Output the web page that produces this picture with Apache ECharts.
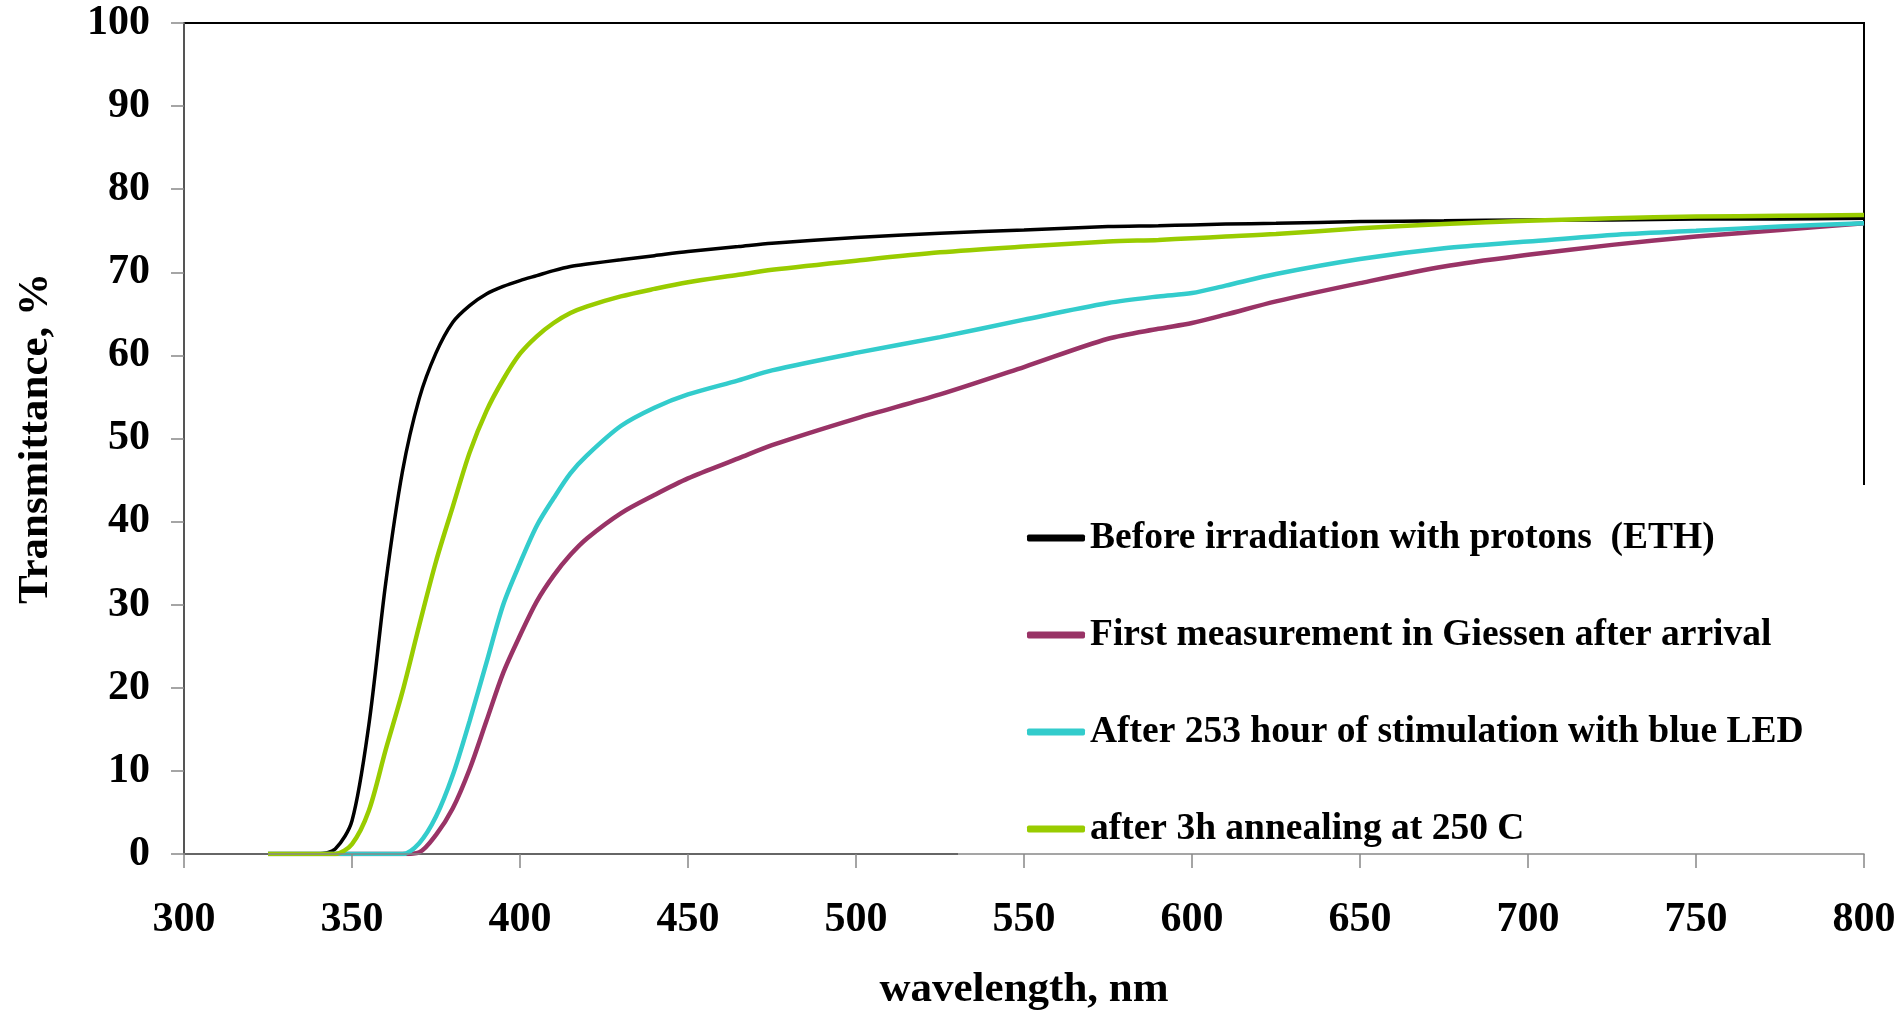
<!DOCTYPE html>
<html>
<head>
<meta charset="utf-8">
<title>Transmittance</title>
<script src="https://cdn.jsdelivr.net/npm/echarts@6.0.0/dist/echarts.min.js"></script>
<style>
    html, body { margin: 0; padding: 0; background: #fff; }
    #chart { width: 1902px; height: 1011px; }
</style>
</head>
<body>
<div id="chart"></div>
<script>
// wavelength (nm), shared by all curves
const wavelengths = [325, 340, 345, 350, 355, 360, 365, 370, 375, 380, 385, 390, 395, 400, 405, 410, 415,
    420, 430, 440, 450, 465, 475, 500, 525, 550, 575, 590, 600, 610, 625, 650, 675, 700, 725, 750, 775, 800];

// transmittance, %
const beforeEth = [0, 0, 0.6, 4.0, 15.5, 32.5, 46, 54.8, 60.3, 64.0, 66.0, 67.4, 68.3, 69.0, 69.6, 70.2, 70.7,
    71.0, 71.5, 72.0, 72.5, 73.1, 73.5, 74.2, 74.7, 75.1, 75.5, 75.6, 75.7, 75.8, 75.9, 76.1, 76.2, 76.3, 76.3, 76.4, 76.4, 76.5];
const giessenArrival = [0, 0, 0, 0, 0, 0, 0, 0.2, 2.3, 5.5, 10.2, 16, 21.8, 26.3, 30.4, 33.5, 36.0,
    38.0, 41.0, 43.2, 45.2, 47.6, 49.2, 52.4, 55.3, 58.6, 62.0, 63.2, 63.9, 64.9, 66.5, 68.7, 70.7, 72.1, 73.3, 74.3, 75.1, 75.9];
const blueLed253h = [0, 0, 0, 0, 0, 0, 0, 1.3, 4.5, 9.5, 16, 23, 30, 35, 39.5, 42.8, 45.8,
    48.0, 51.5, 53.7, 55.3, 57.0, 58.2, 60.3, 62.2, 64.3, 66.3, 67.1, 67.5, 68.4, 69.8, 71.6, 72.9, 73.7, 74.5, 75.0, 75.5, 75.9];
const annealed250 = [0, 0, 0, 1.2, 5.2, 12.5, 19.5, 27.5, 35.2, 41.8, 48.3, 53.3, 57.1, 60.2, 62.3, 63.9, 65.1,
    65.9, 67.1, 68.0, 68.8, 69.7, 70.3, 71.4, 72.4, 73.1, 73.7, 73.9, 74.1, 74.3, 74.6, 75.3, 75.8, 76.2, 76.5, 76.7, 76.8, 76.9];

const seriesNames = [
    'Before irradiation with protons  (ETH)',
    'First measurement in Giessen after arrival',
    'After 253 hour of stimulation with blue LED',
    'after 3h annealing at 250 C'
];
const seriesValues = [beforeEth, giessenArrival, blueLed253h, annealed250];
const seriesColors = ['#000000', '#993366', '#33CCCC', '#99CC00'];
const seriesWidths = [3.5, 4.5, 4.5, 4.5];

const font = 'Liberation Serif, Times New Roman, serif';

const chart = echarts.init(document.getElementById('chart'));

const option = {
    animation: false,
    color: seriesColors,
    grid: {
        left: 184,
        right: 38,
        top: 23,
        bottom: 157,
        show: true,
        borderColor: '#000',
        borderWidth: 2,
        containLabel: false,
        outerBoundsMode: 'none'
    },
    // white legend box hides the lower right part of the frame, as in the original
    legend: {
        orient: 'vertical',
        left: 958,
        top: 485,
        padding: [33, 120, 8, 69],
        backgroundColor: '#fff',
        itemGap: 57,
        itemWidth: 58,
        itemHeight: 7,
        icon: 'roundRect',
        textStyle: {
            fontFamily: font,
            fontWeight: 'bold',
            fontSize: 37.5,
            lineHeight: 40,
            color: '#000'
        },
        data: seriesNames
    },
    xAxis: {
        type: 'value',
        min: 300,
        max: 800,
        interval: 50,
        z: 5,
        name: 'wavelength, nm',
        nameLocation: 'middle',
        nameGap: 114,
        nameTextStyle: { fontFamily: font, fontWeight: 'bold', fontSize: 43, color: '#000' },
        axisLine: { lineStyle: { color: '#888', width: 1.5 } },
        axisTick: { length: 14, lineStyle: { color: '#888', width: 1.5 } },
        axisLabel: { margin: 45, fontFamily: font, fontWeight: 'bold', fontSize: 42, color: '#000' },
        splitLine: { show: false }
    },
    yAxis: {
        type: 'value',
        min: 0,
        max: 100,
        interval: 10,
        z: 3,
        name: 'Transmittance, %',
        nameLocation: 'middle',
        nameGap: 127,
        nameTextStyle: { fontFamily: font, fontWeight: 'bold', fontSize: 43, color: '#000' },
        axisLine: { show: true, lineStyle: { color: '#555', width: 2 } },
        axisTick: { show: true, length: 13, lineStyle: { color: '#888', width: 1.5 } },
        axisLabel: { margin: 34, fontFamily: font, fontWeight: 'bold', fontSize: 42, color: '#000' },
        splitLine: { show: false }
    },
    series: seriesNames.map((name, i) => ({
        name: name,
        type: 'line',
        symbol: 'none',
        smooth: 0.3,
        data: wavelengths.map((w, j) => [w, seriesValues[i][j]]),
        lineStyle: { width: seriesWidths[i], color: seriesColors[i] }
    }))
};

chart.setOption(option);
</script>
</body>
</html>
